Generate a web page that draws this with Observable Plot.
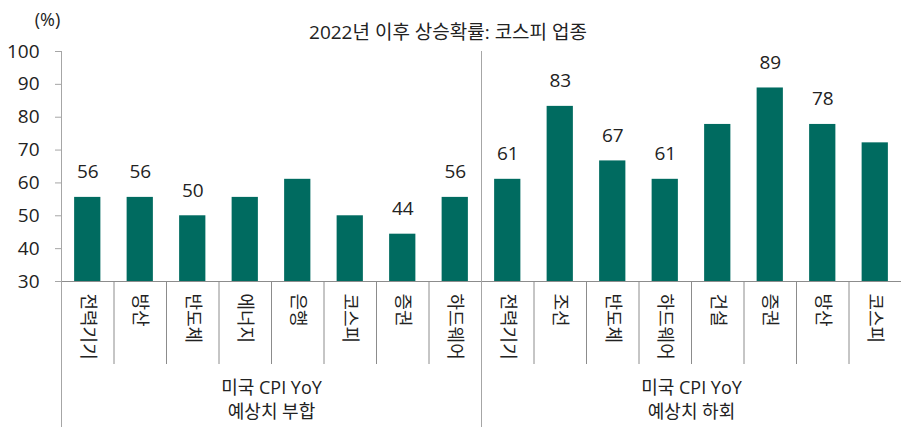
<!DOCTYPE html>
<html>
<head>
<meta charset="utf-8">
<script src="https://cdn.jsdelivr.net/npm/d3@7"></script>
<script src="https://cdn.jsdelivr.net/npm/@observablehq/plot@0.6"></script>
<style>
  html, body { margin: 0; padding: 0; background: #fff; }
  #chart svg { display: block; }
</style>
</head>
<body>
<div id="chart"></div>
<script>
// ---- Data ----
const title = "2022년 이후 상승확률: 코스피 업종";
const unitLabel = "(%)";
const categories = ["전력기기","방산","반도체","에너지","은행","코스피","증권","하드웨어",
                    "전력기기","조선","반도체","하드웨어","건설","증권","방산","코스피"];
const values = [55.6, 55.6, 50.0, 55.6, 61.1, 50.0, 44.4, 55.6,
                61.1, 83.3, 66.7, 61.1, 77.8, 88.9, 77.8, 72.2];
const showLabel = [true, true, true, false, false, false, true, true,
                   true, true, true, true, false, true, true, false];
const groupNames = ["미국 CPI YoY\n예상치 부합", "미국 CPI YoY\n예상치 하회"];
const groupStart = [0, 8];
const groupSize = [8, 8];
const yTicks = [30, 40, 50, 60, 70, 80, 90, 100];
const yDomain = [30, 100];

// ---- Layout ----
const W = 907, H = 427;
const mt = 51, mb = 146, ml = 61, mr = 6;
const frameH = H - mt - mb;
const font = "'Open Sans', 'Noto Sans CJK KR', sans-serif";
const barColor = "#006b60";
const textColor = "#222";

const idx = d3.range(categories.length);
const rows = idx.map(i => ({i, cat: categories[i], v: values[i], label: showLabel[i] ? String(Math.round(values[i])) : ""}));
const groups = groupNames.map((g, k) => ({name: g, start: groupStart[k], mid: groupStart[k] + groupSize[k] / 2}));
const innerBounds = idx.slice(1).filter(b => !groupStart.includes(b));

const chart = Plot.plot({
  width: W,
  height: H,
  marginTop: mt,
  marginBottom: mb,
  marginLeft: ml,
  marginRight: mr,
  style: {fontFamily: font, fontSize: "18px", color: textColor, background: "#fff"},
  x: {type: "linear", domain: [0, categories.length], axis: null},
  y: {domain: yDomain, axis: null},
  marks: [
    // bars
    Plot.rectY(rows, {x1: d => d.i + 0.25, x2: d => d.i + 0.75, y1: yDomain[0], y2: "v", fill: barColor}),
    // value labels
    Plot.text(rows.filter(d => d.label), {x: d => d.i + 0.5, y: "v", text: "label", lineAnchor: "bottom", dy: -19, fill: textColor, fontSize: 19}),
    // y axis
    Plot.axisY({ticks: yTicks, tickSize: 6, tickPadding: 16, stroke: "#a6a6a6", fill: textColor, fontSize: 19, label: null}),
    // x baseline
    Plot.ruleY([yDomain[0]], {stroke: "#8c8c8c", strokeWidth: 1.2}),
    // inner dividers (short)
    Plot.ruleX(innerBounds, {stroke: "#8c8c8c", insetTop: frameH, insetBottom: -83}),
    // group dividers (long)
    Plot.ruleX(groupStart, {stroke: "#a6a6a6", insetTop: 0, insetBottom: -mb}),
    // category labels (rotated)
    Plot.text(rows, {x: d => d.i + 0.5, text: "cat", frameAnchor: "bottom", rotate: 90, textAnchor: "start", lineAnchor: "middle", dy: 12, fill: textColor, fontSize: 18}),
    // group labels
    Plot.text(groups, {x: "mid", text: "name", frameAnchor: "bottom", lineAnchor: "top", dy: 95, lineHeight: 1.35, fill: textColor, fontSize: 18}),
    // title
    Plot.text([title], {frameAnchor: "top-left", dx: W / 2 - ml - 6, dy: -19, textAnchor: "middle", lineAnchor: "middle", fill: textColor, fontSize: 19}),
    // unit
    Plot.text([unitLabel], {frameAnchor: "top-left", dx: -14, dy: -31, textAnchor: "middle", lineAnchor: "middle", fill: textColor, fontSize: 18})
  ]
});
document.getElementById("chart").appendChild(chart);
</script>
</body>
</html>
